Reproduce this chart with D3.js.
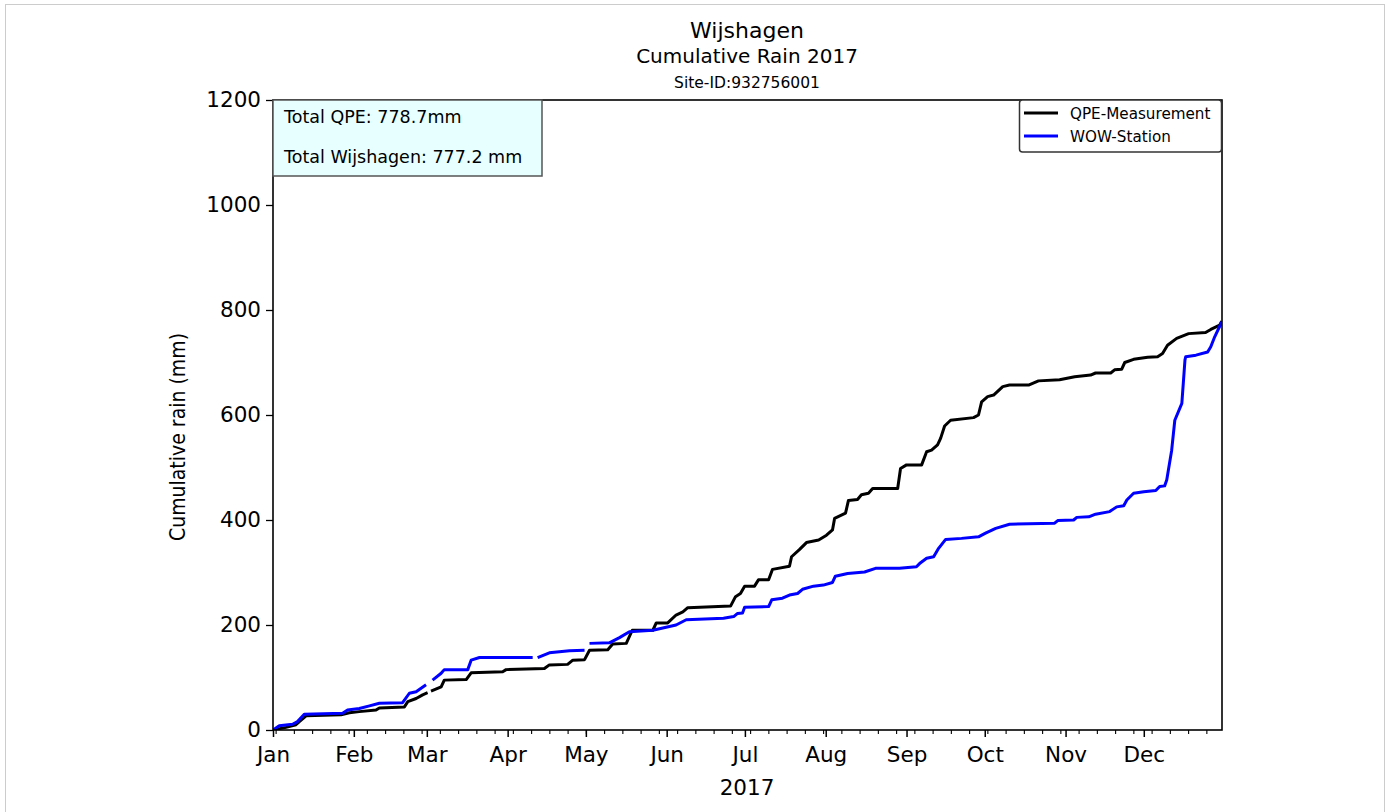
<!DOCTYPE html>
<html>
<head>
<meta charset="utf-8">
<script src="https://cdn.jsdelivr.net/npm/d3@7"></script>
<style>
  html, body { margin: 0; padding: 0; background: #fff; }
  svg { display: block; font-family: "DejaVu Sans", sans-serif; }
</style>
</head>
<body>
<svg id="chart" width="1390" height="812"></svg>
<script>
// ---- Data (day of year 2017, fractional; cumulative rain in mm; null = missing) ----
const qpeDays = [0, 5.0, 8.8, 10.1, 12.7, 26.1, 29.3, 33.1, 39.5, 40.8, 50.4, 51.7, 54.9, 57.4, 59.3, 60.0, 60.6, 64.5, 65.7,
  74.1, 76.0, 88.1, 89.4, 104.1, 106.0, 113.0, 115.0, 119.5, 121.4, 128.4, 130.3, 135.5, 137.8, 145.7, 147.0, 151.4,
  154.6, 157.2, 159.1, 175.5, 177.4, 179.3, 180.9, 184.7, 186.2, 190.1, 191.6, 198.1, 198.9, 202.0, 204.6, 209.3,
  212.3, 214.6, 215.4, 219.6, 220.7, 224.2, 225.7, 228.4, 230.0, 239.6, 240.7, 243.0, 248.8, 250.7, 252.6, 254.9,
  256.1, 257.6, 259.9, 268.7, 270.6, 271.8, 274.1, 276.4, 279.9, 282.5, 289.8, 293.6, 301.7, 307.5, 313.6, 315.5,
  321.3, 322.8, 325.5, 326.7, 330.1, 335.5, 339.3, 341.2, 343.1, 346.6, 351.2, 357.7, 359.7, 363.1, 363.9];
const qpeValues = [0, 5, 10, 16, 27, 29, 33, 35, 38, 42, 44, 54, 60, 67, 71, null, 74, 82, 95,
  96, 109, 111, 115, 117, 124, 125, 133, 134, 152, 153, 164, 165, 190, 190, 204, 204,
  219, 225, 233, 236, 254, 260, 274, 274, 286, 286, 306, 312, 330, 344, 357, 362,
  371, 381, 403, 413, 437, 439, 448, 451, 460, 460, 498, 505, 505, 530, 533, 543,
  556, 579, 590, 595, 600, 625, 635, 638, 654, 657, 657, 665, 667, 673, 676, 680,
  680, 686, 687, 700, 706, 710, 711, 717, 733, 746, 755, 757, 763, 771, 778.7];

const wowDays = [0, 2.4, 7.5, 9.4, 12.0, 26.7, 28.6, 33.1, 37.0, 40.8, 49.7, 52.3, 54.9, 58.7, 60.0, 61.2, 64.5, 65.7,
  74.7, 76.0, 79.2, 99.6, 100.5, 101.5, 106.0, 113.7, 119.5, 120.5, 121.4, 129.0, 132.9, 136.7, 145.7, 154.6, 158.5,
  172.8, 176.7, 178.2, 180.1, 180.9, 190.1, 191.3, 195.4, 198.1, 201.2, 203.1, 207.3, 211.1, 214.6, 215.7, 220.4,
  226.9, 231.1, 240.3, 246.8, 248.0, 250.7, 253.4, 255.3, 258.0, 264.1, 270.6, 273.3, 277.2, 282.5, 299.8, 301.0,
  307.1, 308.3, 312.9, 315.5, 320.9, 323.6, 326.3, 327.5, 330.1, 334.0, 338.6, 340.1, 342.0, 342.8, 344.7, 345.9,
  348.6, 349.8, 350.1, 354.0, 358.5, 359.7, 361.2, 363.9];
const wowValues = [0, 8, 11, 16, 30, 32, 38, 41, 46, 51, 52, 70, 73, 86, null, 95, 108, 115,
  115, 133, 138, 138, null, 138, 147, 151, 152, null, 165, 166, 176, 187, 190, 200, 210,
  213, 216, 222, 223, 234, 235, 248, 251, 257, 260, 268, 274, 276, 281, 293, 298,
  301, 308, 308, 311, 317, 327, 330, 346, 363, 365, 368, 375, 384, 392, 394, 399,
  400, 405, 406, 411, 416, 425, 427, 438, 451, 454, 456, 464, 465, 476, 533, 590,
  622, 705, 711, 714, 720, 730, 749, 777.2];

const seriesNames = ["QPE-Measurement", "WOW-Station"];
const seriesColors = ["#000000", "#0000ff"];
const monthLabels = ["Jan", "Feb", "Mar", "Apr", "May", "Jun", "Jul", "Aug", "Sep", "Oct", "Nov", "Dec"];
const yTickValues = [0, 200, 400, 600, 800, 1000, 1200];
const titleLines = ["Wijshagen", "Cumulative Rain 2017", "Site-ID:932756001"];
const infoLines = ["Total QPE: 778.7mm", "Total Wijshagen: 777.2 mm"];

// ---- Layout ----
const svg = d3.select("#chart");
const W = 1390, H = 812;
const plot = { left: 273, right: 1222, top: 100, bottom: 730 };
const t0 = Date.UTC(2017, 0, 1);
const toDate = d => new Date(t0 + d * 864e5);

const x = d3.scaleUtc().domain([toDate(0), toDate(364)]).range([plot.left, plot.right]);
const y = d3.scaleLinear().domain([0, 1200]).range([plot.bottom, plot.top]);

// figure background + border
svg.append("rect").attr("x", 0).attr("y", 0).attr("width", W).attr("height", H).attr("fill", "#fff");
svg.append("rect").attr("x", 5.5).attr("y", 4.5).attr("width", 1379).attr("height", 820)
  .attr("fill", "none").attr("stroke", "#cccccc").attr("stroke-width", 1);

// titles
svg.append("text").attr("x", 747).attr("y", 38).attr("text-anchor", "middle")
  .attr("font-size", 22).text(titleLines[0]);
svg.append("text").attr("x", 747).attr("y", 63).attr("text-anchor", "middle")
  .attr("font-size", 20).text(titleLines[1]);
svg.append("text").attr("x", 747).attr("y", 88).attr("text-anchor", "middle")
  .attr("font-size", 15.5).text(titleLines[2]);

// clip
svg.append("defs").append("clipPath").attr("id", "clip")
  .append("rect").attr("x", plot.left).attr("y", plot.top)
  .attr("width", plot.right - plot.left).attr("height", plot.bottom - plot.top);

// lines
const mk = (days, vals) => days.map((d, i) => ({ date: toDate(d), v: vals[i] }));
const series = [mk(qpeDays, qpeValues), mk(wowDays, wowValues)];
const line = d3.line().defined(d => d.v != null).x(d => x(d.date)).y(d => y(d.v));
const g = svg.append("g").attr("clip-path", "url(#clip)");
series.forEach((s, i) => {
  g.append("path").datum(s).attr("d", line).attr("fill", "none")
    .attr("stroke", seriesColors[i]).attr("stroke-width", 3)
    .attr("stroke-linejoin", "round").attr("stroke-linecap", "butt");
});

// axes
const yAxis = d3.axisLeft(y).tickValues(yTickValues).tickSize(7).tickPadding(5).tickFormat(d3.format("d"));
const yg = svg.append("g").attr("transform", `translate(${plot.left},0)`).call(yAxis);
yg.select(".domain").remove();
yg.selectAll("line").attr("stroke", "#000").attr("stroke-width", 1.3);
yg.selectAll("text").attr("font-size", 21.5).attr("font-family", "DejaVu Sans").attr("fill", "#000");

const monthTicks = d3.utcMonth.range(toDate(0), toDate(364.5));
const xAxis = d3.axisBottom(x).tickValues(monthTicks).tickSize(7).tickPadding(10)
  .tickFormat(d => monthLabels[d.getUTCMonth()]);
const xg = svg.append("g").attr("transform", `translate(0,${plot.bottom})`).call(xAxis);
xg.select(".domain").remove();
xg.selectAll("line").attr("stroke", "#000").attr("stroke-width", 1.5);
xg.selectAll("text").attr("font-size", 21.5).attr("font-family", "DejaVu Sans").attr("fill", "#000");

const minorTicks = d3.utcMonday.range(toDate(0), toDate(364.5));
const xm = svg.append("g").attr("transform", `translate(0,${plot.bottom})`)
  .call(d3.axisBottom(x).tickValues(minorTicks).tickSize(4).tickFormat(""));
xm.select(".domain").remove();
xm.selectAll("line").attr("stroke", "#000").attr("stroke-width", 1.1);

// spines
svg.append("rect").attr("x", plot.left).attr("y", plot.top)
  .attr("width", plot.right - plot.left).attr("height", plot.bottom - plot.top)
  .attr("fill", "none").attr("stroke", "#000").attr("stroke-width", 1.6);

// axis labels
svg.append("text").attr("x", 747).attr("y", 795).attr("text-anchor", "middle")
  .attr("font-size", 21.5).text("2017");
svg.append("text")
  .attr("transform", "translate(185,437) rotate(-90) scale(0.86,1)")
  .attr("text-anchor", "middle").attr("font-size", 22).text("Cumulative rain (mm)");

// info box
svg.append("rect").attr("x", plot.left).attr("y", plot.top).attr("width", 269).attr("height", 76)
  .attr("fill", "#e8ffff").attr("stroke", "#555").attr("stroke-width", 1.5);
svg.append("text").attr("x", 284).attr("y", 123).attr("font-size", 17.5).text(infoLines[0]);
svg.append("text").attr("x", 284).attr("y", 163).attr("font-size", 17.5).text(infoLines[1]);

// legend
const lg = svg.append("g");
lg.append("rect").attr("x", 1019.5).attr("y", 100).attr("width", 202).attr("height", 52)
  .attr("rx", 3).attr("fill", "#fff").attr("stroke", "#333").attr("stroke-width", 1.5);
seriesNames.forEach((n, i) => {
  const yy = 113 + i * 23;
  lg.append("line").attr("x1", 1024).attr("x2", 1058).attr("y1", yy).attr("y2", yy)
    .attr("stroke", seriesColors[i]).attr("stroke-width", 3);
  lg.append("text").attr("x", 1070).attr("y", yy + 5.5).attr("font-size", 15.2).text(n);
});
</script>
</body>
</html>
